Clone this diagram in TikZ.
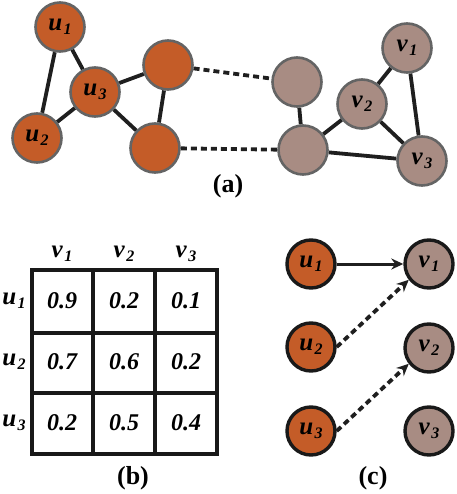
\documentclass[tikz,border=0pt]{standalone}
\usepackage{fontspec}
\setmainfont{Liberation Serif}
\usetikzlibrary{arrows.meta}
\definecolor{orng}{RGB}{196,92,40}
\definecolor{gryb}{RGB}{168,140,131}
\definecolor{rim}{RGB}{100,100,100}
\newcommand{\lab}[2]{\bfseries\itshape #1\kern1.5pt\raisebox{-0.35ex}{\fontsize{16}{16}\selectfont #2}}
\tikzset{
  un/.style={circle, fill=orng, draw=rim, line width=2.6pt, minimum size=49pt, inner sep=0pt, font=\fontsize{25}{25}\selectfont},
  vn/.style={circle, fill=gryb, draw=rim, line width=2.6pt, minimum size=49pt, inner sep=0pt, font=\fontsize{25}{25}\selectfont},
  uc/.style={un, draw=black!90, line width=3.4pt, minimum size=48pt},
  vc/.style={vn, draw=black!90, line width=3.4pt, minimum size=48pt},
  edge/.style={line width=3.8pt, black!88},
  dline/.style={line width=3.8pt, black!88, dash pattern=on 6pt off 4pt},
  captxt/.style={font=\fontsize{26}{26}\selectfont\bfseries},
  hdr/.style={font=\fontsize{25}{25}\selectfont},
  cell/.style={font=\fontsize{24}{24}\selectfont\bfseries\itshape},
}
\begin{document}
\begin{tikzpicture}[x=1pt,y=-1pt]
\useasboundingbox (0,0) rectangle (456,494);
% (a)
\node[un] (u1) at (60,27) {\lab{u}{1}};
\node[un] (u3) at (95,92) {\lab{u}{3}};
\node[un] (u2) at (37,138) {\lab{u}{2}};
\node[un] (ua) at (168,65) {};
\node[un] (ub) at (155,148) {};
\node[vn] (va) at (297,82) {};
\node[vn] (vb) at (303,150) {};
\node[vn] (v2) at (362,104) {\lab{v}{2}};
\node[vn] (v1) at (407,48) {\lab{v}{1}};
\node[vn] (v3) at (422,161) {\lab{v}{3}};
\draw[edge] (u1) -- (u2);
\draw[edge] (u1) -- (u3);
\draw[edge] (u3) -- (u2);
\draw[edge] (u3) -- (ua);
\draw[edge] (u3) -- (ub);
\draw[edge] (ua) -- (ub);
\draw[edge] (va) -- (vb);
\draw[edge] (vb) -- (v2);
\draw[edge] (vb) -- (v3);
\draw[edge] (v2) -- (v1);
\draw[edge] (v2) -- (v3);
\draw[edge] (v1) -- (v3);
\draw[dline] (ua) -- (va);
\draw[dline] (ub) -- (vb);
\node[captxt] (capa) at (228,186) {(a)};
% (b)
\foreach \i/\x in {1/62,2/124,3/186}{
  \node[hdr] (h\i) at (\x,254) {\lab{v}{\i}};
}
\foreach \i/\y in {1/301,2/362,3/423}{
  \node[hdr] (r\i) at (14,\y) {\lab{u}{\i}};
}
\draw[line width=3.2pt, black!90] (32,270) rectangle (217,454);
\draw[line width=3.2pt, black!90] (93,270) -- (93,454) (155,270) -- (155,454)
  (32,333) -- (217,333) (32,393) -- (217,393);
\node[cell] (c11) at (62,301) {0.9};
\node[cell] (c12) at (124,301) {0.2};
\node[cell] (c13) at (186,301) {0.1};
\node[cell] (c21) at (62,362) {0.7};
\node[cell] (c22) at (124,362) {0.6};
\node[cell] (c23) at (186,362) {0.2};
\node[cell] (c31) at (62,423) {0.2};
\node[cell] (c32) at (124,423) {0.5};
\node[cell] (c33) at (186,423) {0.4};
\node[captxt] (capb) at (133,478) {(b)};
% (c)
\node[uc] (cu1) at (311,264) {\lab{u}{1}};
\node[uc] (cu2) at (311,347) {\lab{u}{2}};
\node[uc] (cu3) at (311,431) {\lab{u}{3}};
\node[vc] (cv1) at (429,264) {\lab{v}{1}};
\node[vc] (cv2) at (429,348) {\lab{v}{2}};
\node[vc] (cv3) at (429,431) {\lab{v}{3}};
\draw[line width=3pt, black!88, -{Stealth[length=12pt,width=11pt]}] (cu1) -- (cv1);
\draw[dline, -{Stealth[length=12pt,width=11pt]}] (cu2.east) -- (cv1.218);
\draw[dline, -{Stealth[length=12pt,width=11pt]}] (cu3.east) -- (cv2.218);
\node[captxt] (capc) at (373,478) {(c)};
\end{tikzpicture}
\end{document}
